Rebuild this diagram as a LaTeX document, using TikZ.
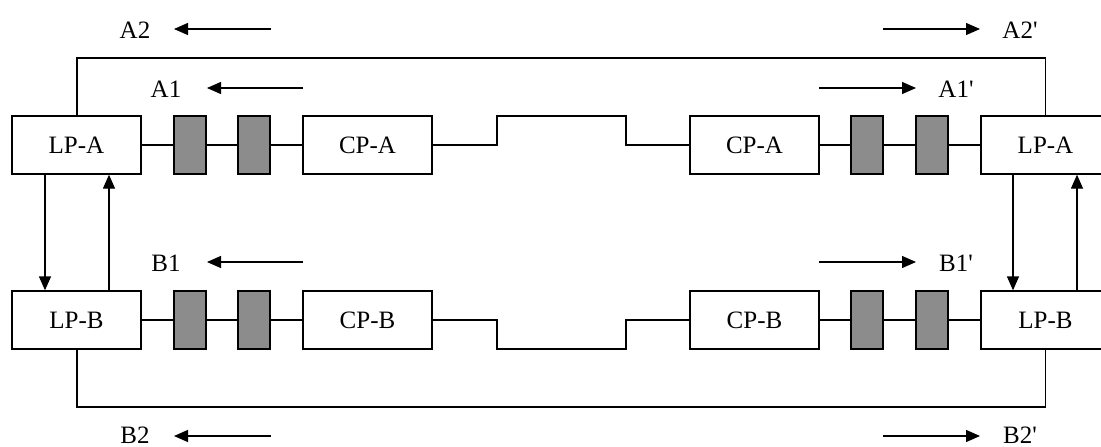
\documentclass[tikz,border=0pt]{standalone}
\usepackage{fontspec}
\setmainfont{Liberation Serif}
\usetikzlibrary{arrows.meta,patterns}
\tikzset{
  lbox/.style={draw, line width=1.3pt, minimum width=129pt, minimum height=58pt, inner sep=0pt, font=\fontsize{25}{30}\selectfont},
  sbox/.style={draw, line width=1.5pt, fill={rgb,255:red,140;green,140;blue,140}, minimum width=32pt, minimum height=58pt, inner sep=0pt},
  wire/.style={line width=1.3pt},
  arr/.style={line width=1.3pt, -{Triangle[length=14pt,width=12pt]}},
  lbl/.style={inner sep=0pt, font=\fontsize{25}{30}\selectfont}
}
\begin{document}
\begin{tikzpicture}[x=1pt,y=-1pt]
\clip (0,0) rectangle (1101,447);
% row A
\node[lbox] (lpal) at (76.5,145) {LP-A};
\node[sbox] (s1) at (190,145) {};
\node[sbox] (s2) at (254,145) {};
\node[lbox] (cpal) at (367.5,145) {CP-A};
\node[lbox] (cpar) at (754.5,145) {CP-A};
\node[sbox] (s3) at (867,145) {};
\node[sbox] (s4) at (932,145) {};
\node[lbox] (lpar) at (1045.5,145) {LP-A};
% row B
\node[lbox] (lpbl) at (76.5,320) {LP-B};
\node[sbox] (t1) at (190,320) {};
\node[sbox] (t2) at (254,320) {};
\node[lbox] (cpbl) at (367.5,320) {CP-B};
\node[lbox] (cpbr) at (754.5,320) {CP-B};
\node[sbox] (t3) at (867,320) {};
\node[sbox] (t4) at (932,320) {};
\node[lbox] (lpbr) at (1045.5,320) {LP-B};
% row wires
\draw[wire] (lpal) -- (s1) (s1) -- (s2) (s2) -- (cpal);
\draw[wire] (cpar) -- (s3) (s3) -- (s4) (s4) -- (lpar);
\draw[wire] (lpbl) -- (t1) (t1) -- (t2) (t2) -- (cpbl);
\draw[wire] (cpbr) -- (t3) (t3) -- (t4) (t4) -- (lpbr);
% middle steps
\coordinate (ma1) at (497,145); \coordinate (ma2) at (497,116);
\coordinate (ma3) at (626,116); \coordinate (ma4) at (626,145);
\draw[wire] (cpal.east) -- (ma1) -- (ma2) -- (ma3) -- (ma4) -- (cpar.west);
\coordinate (mb1) at (497,320); \coordinate (mb2) at (497,349);
\coordinate (mb3) at (626,349); \coordinate (mb4) at (626,320);
\draw[wire] (cpbl.east) -- (mb1) -- (mb2) -- (mb3) -- (mb4) -- (cpbr.west);
% outer loops
\coordinate (top) at (0,58);
\coordinate (bot) at (0,407);
\draw[wire] ([xshift=0.5pt]lpal.north) |- (top -| lpar.north) -- (lpar.north);
\draw[wire] ([xshift=0.5pt]lpbl.south) |- (bot -| lpbr.south) -- (lpbr.south);
% vertical arrows
\draw[arr] ([xshift=-31.5pt]lpal.south) -- ([xshift=-31.5pt]lpbl.north);
\draw[arr] ([xshift=32.5pt]lpbl.north) -- ([xshift=32.5pt]lpal.south);
\draw[arr] ([xshift=-32.5pt]lpar.south) -- ([xshift=-32.5pt]lpbr.north);
\draw[arr] ([xshift=31.5pt]lpbr.north) -- ([xshift=31.5pt]lpar.south);
% direction arrows
\coordinate (a2s) at (271,29); \coordinate (a2e) at (174,29);
\coordinate (a1s) at (303,88); \coordinate (a1e) at (207,88);
\coordinate (a2ps) at (883,29); \coordinate (a2pe) at (980,29);
\coordinate (a1ps) at (819,88); \coordinate (a1pe) at (916,88);
\coordinate (b1s) at (303,262); \coordinate (b1e) at (207,262);
\coordinate (b1ps) at (819,262); \coordinate (b1pe) at (916,262);
\coordinate (b2s) at (271,436); \coordinate (b2e) at (174,436);
\coordinate (b2ps) at (883,436); \coordinate (b2pe) at (980,436);
\draw[arr] (a2s) -- (a2e);
\draw[arr] (a1s) -- (a1e);
\draw[arr] (a2ps) -- (a2pe);
\draw[arr] (a1ps) -- (a1pe);
\draw[arr] (b1s) -- (b1e);
\draw[arr] (b1ps) -- (b1pe);
\draw[arr] (b2s) -- (b2e);
\draw[arr] (b2ps) -- (b2pe);
% labels
\node[lbl] (la2) at (135,30) {A2};
\node[lbl] (la1) at (166,89) {A1};
\node[lbl] (la2p) at (1020,30) {A2\textquotesingle};
\node[lbl] (la1p) at (956,89) {A1\textquotesingle};
\node[lbl] (lb1) at (166,263) {B1};
\node[lbl] (lb1p) at (956,263) {B1\textquotesingle};
\node[lbl] (lb2) at (135,435.5) {B2};
\node[lbl] (lb2p) at (1020,435.5) {B2\textquotesingle};
\end{tikzpicture}
\end{document}
